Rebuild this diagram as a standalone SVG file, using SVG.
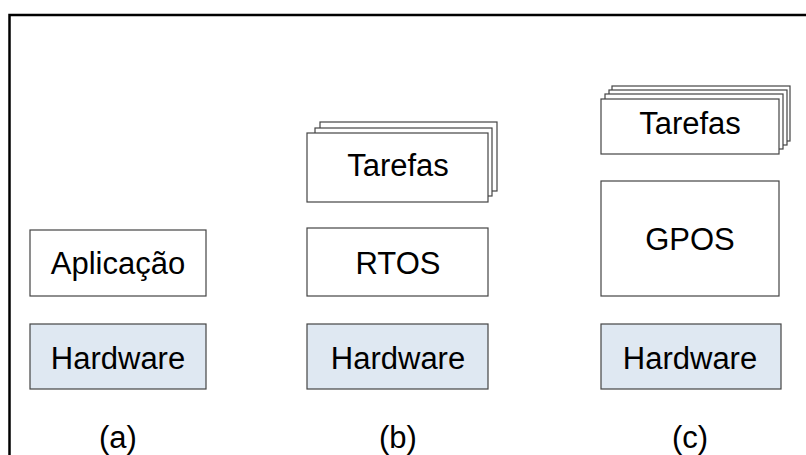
<svg xmlns="http://www.w3.org/2000/svg" width="806" height="455" viewBox="0 0 806 455">
  <style>
    .box { fill: #ffffff; stroke: #444444; stroke-width: 1.2; }
    .hw { fill: #dfe8f2; stroke: #444444; stroke-width: 1.2; }
    .lbl { font-family: "Liberation Sans", Arial, sans-serif; font-size: 31px; fill: #000000; text-anchor: middle; }
    .frame { fill: none; stroke: #000000; stroke-width: 2.5; }
  </style>
  <rect width="806" height="455" fill="#ffffff"/>

  <!-- outer frame: only top and left edges are visible -->
  <path class="frame" d="M9.5,455 V15 H806"/>

  <g id="connectors"></g>

  <!-- column (a) -->
  <g id="aplicacao">
    <rect class="box" x="30" y="230" width="176" height="66"/>
    <text class="lbl" x="118" y="274">Aplicação</text>
  </g>
  <g id="hardware-a">
    <rect class="hw" x="30" y="324" width="176" height="65"/>
    <text class="lbl" x="118" y="369">Hardware</text>
  </g>
  <text class="lbl" x="118" y="448">(a)</text>

  <!-- column (b) -->
  <g id="tarefas-b">
    <rect class="box" x="320" y="122" width="177" height="69"/>
    <rect class="box" x="315" y="128" width="177" height="68"/>
    <rect class="box" x="307" y="133" width="181" height="69"/>
    <text class="lbl" x="398" y="176">Tarefas</text>
  </g>
  <g id="rtos">
    <rect class="box" x="307" y="228" width="181" height="68"/>
    <text class="lbl" x="398" y="274">RTOS</text>
  </g>
  <g id="hardware-b">
    <rect class="hw" x="307" y="324" width="181" height="65"/>
    <text class="lbl" x="398" y="369">Hardware</text>
  </g>
  <text class="lbl" x="398" y="448">(b)</text>

  <!-- column (c) -->
  <g id="tarefas-c">
    <rect class="box" x="612" y="86" width="178" height="55"/>
    <rect class="box" x="609" y="90" width="178" height="55"/>
    <rect class="box" x="605" y="94" width="178" height="55"/>
    <rect class="box" x="601" y="99" width="178" height="55"/>
    <text class="lbl" x="690" y="134">Tarefas</text>
  </g>
  <g id="gpos">
    <rect class="box" x="601" y="181" width="178" height="115"/>
    <text class="lbl" x="690" y="250">GPOS</text>
  </g>
  <g id="hardware-c">
    <rect class="hw" x="601" y="324" width="180" height="65"/>
    <text class="lbl" x="690" y="369">Hardware</text>
  </g>
  <text class="lbl" x="690" y="448">(c)</text>
</svg>
